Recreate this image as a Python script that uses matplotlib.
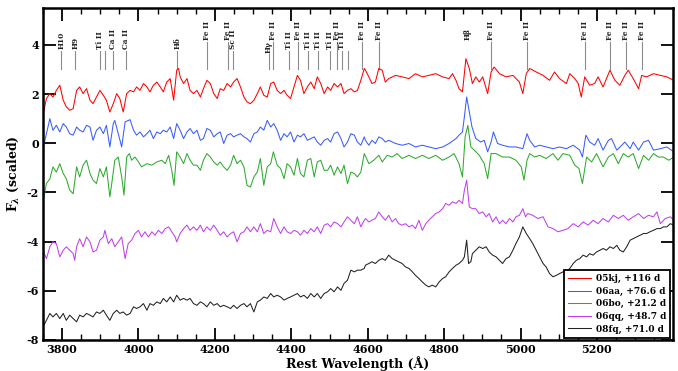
import matplotlib
matplotlib.use("Agg")
import matplotlib.pyplot as plt
import numpy as np
from matplotlib.ticker import MultipleLocator

# ---------------- data (rest wavelength [A], scaled flux) ----------------
sn05kj = np.array([
    (3750,1.14),(3759,1.82),(3768,2.02),(3776,1.88),(3785,2.15),(3794,2.36),(3803,1.75),(3811,1.48),
    (3820,1.34),(3829,1.41),(3838,2.15),(3846,2.29),(3855,2.02),(3864,2.22),(3873,1.75),(3881,1.61),
    (3890,1.88),(3899,2.15),(3908,1.95),(3916,1.75),(3925,1.27),(3934,1.61),(3943,2.02),(3951,1.82),
    (3960,1.27),(3969,2.02),(3978,2.15),(3987,2.09),(3995,2.29),(4004,2.15),(4013,2.43),(4022,2.29),
    (4030,2.09),(4039,2.36),(4048,2.49),(4057,2.29),(4065,2.09),(4074,2.49),(4083,2.63),(4092,1.75),
    (4100,2.97),(4105,3.04),(4109,2.70),(4118,2.43),(4127,2.63),(4135,2.15),(4144,2.02),(4153,2.15),
    (4162,1.88),(4170,2.22),(4179,2.56),(4188,2.43),(4197,2.02),(4206,1.82),(4214,2.22),(4223,2.15),
    (4232,2.43),(4241,2.29),(4249,2.49),(4258,2.63),(4267,2.29),(4276,1.88),(4284,1.68),(4293,1.61),
    (4302,1.75),(4311,2.02),(4319,2.29),(4328,1.95),(4337,1.88),(4346,2.43),(4354,2.49),(4363,2.15),
    (4372,2.02),(4381,2.15),(4389,1.95),(4398,1.82),(4407,2.29),(4416,2.76),(4424,2.56),(4433,2.02),
    (4442,2.29),(4451,2.49),(4460,2.22),(4468,2.70),(4477,2.43),(4486,2.02),(4495,2.29),(4503,2.15),
    (4512,2.43),(4521,2.29),(4530,2.43),(4538,2.02),(4547,2.15),(4556,2.22),(4565,2.09),(4573,2.15),
    (4582,2.56),(4591,3.04),
    (4594,2.97),(4603,2.70),(4611,2.43),(4620,2.49),(4629,3.04),(4638,2.97),(4646,2.49),(4655,2.63),
    (4673,2.76),(4690,2.70),(4708,2.63),(4725,2.83),(4743,2.70),(4760,2.76),(4778,2.83),(4796,2.70),
    (4813,2.63),(4822,2.83),(4831,2.56),(4839,2.22),(4848,2.09),(4857,3.44),(4866,3.04),(4874,2.43),
    (4883,2.70),(4892,2.49),(4901,2.70),(4914,2.02),(4923,2.90),(4931,3.10),(4945,2.83),(4962,2.70),
    (4980,2.76),(4997,2.49),(5006,2.02),(5015,2.83),(5024,3.04),(5041,2.90),(5059,2.76),(5076,2.56),
    (5089,2.90),(5102,2.63),(5120,2.43),(5129,2.83),(5142,2.63),(5151,2.43),(5159,1.88),(5168,2.70),
    (5181,2.36),(5194,2.43),(5203,2.70),(5216,2.29),(5234,2.97),(5247,2.56),(5260,2.36),(5273,2.76),
    (5282,2.97),(5295,2.63),(5309,2.22),(5317,2.76),(5330,2.70),(5348,2.83),(5366,2.76),(5383,2.70),
    (5401,2.56)])

sn06aa = np.array([
    (3750,-0.22),(3759,0.39),(3768,1.00),(3776,0.53),(3785,0.73),(3794,0.46),(3803,0.80),(3811,0.66),
    (3820,0.39),(3829,0.33),(3838,0.66),(3846,0.53),(3855,0.46),(3864,0.73),(3873,0.66),(3881,0.12),
    (3890,0.53),(3899,0.66),(3908,0.39),(3916,0.73),(3925,-0.15),(3934,0.80),(3938,0.93),(3947,0.39),
    (3956,-0.15),(3965,0.87),(3978,0.96),(3987,0.53),(3995,0.33),(4004,0.46),(4013,0.26),(4022,0.39),
    (4030,0.53),(4039,0.19),(4048,0.46),(4057,0.39),(4065,0.53),(4074,0.46),(4083,0.66),(4092,0.19),
    (4100,0.80),(4109,0.53),(4118,0.19),(4127,0.46),(4135,0.60),(4144,0.39),(4153,0.53),(4162,0.12),
    (4170,0.19),(4179,0.60),(4188,0.53),(4197,0.26),(4206,0.39),(4214,0.46),(4223,-0.01),(4232,0.33),
    (4241,0.39),(4249,0.26),(4258,0.33),(4267,0.39),(4276,0.26),(4284,0.19),(4293,0.05),(4302,0.39),
    (4311,0.46),(4319,0.66),(4328,0.53),(4337,0.93),(4346,0.66),(4354,0.80),(4363,0.53),(4372,0.12),
    (4381,0.39),(4389,0.26),(4398,0.46),(4407,0.05),(4416,0.33),(4424,0.26),(4433,0.39),(4442,0.12),
    (4451,0.19),(4460,0.26),(4468,0.05),(4477,-0.08),(4486,0.12),(4495,0.19),(4503,0.05),(4512,0.39),
    (4521,0.46),(4530,0.19),(4538,-0.15),(4547,0.05),(4556,0.39),(4565,0.33),(4573,0.05),(4582,-0.08),
    (4591,0.26),
    (4594,0.12),(4603,-0.08),(4611,0.12),(4620,-0.01),(4629,0.26),(4638,0.19),(4646,0.05),(4655,0.12),
    (4673,-0.01),(4690,-0.08),(4708,-0.01),(4725,-0.15),(4743,-0.08),(4760,-0.15),(4778,-0.22),(4796,-0.15),
    (4813,-0.01),(4831,0.19),(4839,0.33),(4848,0.46),(4853,1.07),(4859,1.88),(4866,1.27),(4873,0.66),
    (4883,0.19),(4896,0.05),(4905,0.12),(4914,-0.35),(4923,0.05),(4929,0.46),(4940,-0.01),(4953,-0.08),
    (4971,-0.15),(4988,-0.15),(5006,-0.22),(5017,0.39),(5024,0.12),(5037,-0.15),(5050,-0.08),(5067,-0.15),
    (5085,-0.22),(5102,-0.15),(5120,-0.22),(5138,-0.08),(5155,-0.28),(5162,-0.56),(5171,0.33),(5181,0.05),
    (5194,-0.08),(5203,0.19),(5216,-0.28),(5230,0.12),(5238,0.19),(5252,-0.28),(5265,-0.08),(5273,0.05),
    (5287,-0.22),(5295,0.05),(5309,-0.28),(5322,0.05),(5335,0.12),(5348,-0.28),(5366,-0.22),(5383,-0.15),
    (5401,-0.35)])

sn06bo = np.array([
    (3750,-2.38),(3759,-1.64),(3768,-1.44),(3776,-0.96),(3785,-1.17),(3794,-0.83),(3803,-1.23),(3811,-1.44),
    (3820,-1.91),(3829,-2.05),(3838,-0.96),(3846,-1.37),(3855,-0.89),(3864,-0.69),(3873,-1.23),(3881,-1.50),
    (3890,-1.64),(3899,-1.03),(3908,-1.37),(3916,-0.96),(3925,-2.18),(3930,-1.64),(3938,-0.69),(3947,-0.56),
    (3956,-1.37),(3962,-2.11),(3969,-0.56),(3976,-0.42),(3982,-0.69),(3991,-0.56),(4000,-0.76),(4008,-0.96),
    (4022,-0.83),(4035,-0.89),(4048,-0.76),(4061,-0.69),(4070,-0.83),(4079,-0.49),(4087,-1.10),(4093,-1.71),
    (4100,-0.35),(4109,-0.56),(4118,-0.83),(4127,-0.42),(4135,-0.69),(4144,-0.89),(4153,-0.89),(4162,-1.10),
    (4170,-0.69),(4179,-0.42),(4188,-0.56),(4197,-0.76),(4206,-0.89),(4214,-0.76),(4223,-0.96),(4232,-1.10),
    (4241,-0.89),(4249,-0.49),(4258,-0.83),(4267,-0.69),(4276,-0.96),(4284,-1.71),(4293,-1.78),(4302,-1.37),
    (4311,-1.17),(4319,-0.62),(4328,-1.71),(4337,-0.96),(4346,-0.83),(4353,-0.35),(4363,-0.89),(4372,-1.03),
    (4381,-1.44),(4389,-0.83),(4398,-0.96),(4407,-1.30),(4416,-0.62),(4424,-1.23),(4433,-1.37),(4442,-0.69),
    (4451,-0.62),(4460,-1.37),(4468,-0.76),(4477,-0.69),(4486,-1.10),(4495,-1.10),(4503,-0.89),(4512,-1.30),
    (4521,-0.96),(4530,-1.23),(4538,-0.89),(4547,-1.64),(4556,-1.17),(4565,-1.23),(4573,-1.37),(4582,-1.17),
    (4591,-0.42),
    (4603,-0.83),(4616,-0.69),(4629,-0.49),(4638,-0.76),(4651,-0.49),(4664,-0.56),(4677,-0.42),(4690,-0.62),
    (4708,-0.49),(4725,-0.62),(4743,-0.49),(4760,-0.62),(4778,-0.49),(4796,-0.69),(4813,-0.56),(4826,-0.42),
    (4839,-0.83),(4848,-1.37),(4855,0.26),(4862,0.73),(4870,-0.15),(4879,-0.28),(4892,-0.49),(4905,-0.83),
    (4914,-1.44),(4923,-0.42),(4936,-0.42),(4953,-0.56),(4971,-0.56),(4988,-0.69),(5002,-0.96),(5009,-1.50),
    (5017,-0.69),(5024,-0.42),(5037,-0.56),(5050,-0.49),(5067,-0.62),(5085,-0.42),(5098,-0.69),(5111,-0.42),
    (5129,-0.49),(5142,-0.89),(5153,-1.03),(5162,-1.64),(5173,-0.56),(5186,-0.76),(5199,-0.42),(5216,-0.96),
    (5230,-0.56),(5243,-0.42),(5256,-0.83),(5269,-0.42),(5282,-0.56),(5295,-0.42),(5309,-1.03),(5322,-0.49),
    (5335,-0.69),(5348,-0.42),(5361,-0.56),(5374,-0.56),(5388,-0.69),(5401,-0.56)])

sn06qq = np.array([
    (3750,-4.35),(3759,-4.69),(3768,-4.21),(3776,-4.01),(3785,-4.08),(3794,-4.62),(3803,-4.35),(3811,-4.21),
    (3820,-4.35),(3829,-4.49),(3833,-4.76),(3838,-4.21),(3846,-3.88),(3855,-4.21),(3864,-3.81),(3873,-4.01),
    (3881,-4.42),(3890,-4.35),(3899,-3.94),(3908,-3.81),(3912,-3.54),(3921,-4.08),(3930,-3.88),(3938,-4.21),
    (3947,-4.01),(3956,-3.81),(3965,-4.69),(3973,-4.08),(3982,-3.94),(3991,-3.67),(4000,-3.54),(4008,-3.81),
    (4017,-3.60),(4026,-3.81),(4035,-3.60),(4043,-3.74),(4052,-3.54),(4061,-3.67),(4070,-3.47),(4079,-3.40),
    (4087,-3.60),(4096,-3.81),(4100,-4.01),(4109,-3.67),(4118,-3.47),(4127,-3.33),(4135,-3.54),(4144,-3.40),
    (4153,-3.54),(4162,-3.33),(4170,-3.60),(4179,-3.40),(4188,-3.54),(4197,-3.33),(4206,-3.54),(4214,-3.74),
    (4223,-3.60),(4232,-3.81),(4241,-3.67),(4249,-3.60),(4258,-4.01),(4267,-3.67),(4276,-3.60),(4284,-3.40),
    (4293,-3.60),(4302,-3.40),(4311,-3.60),(4319,-3.27),(4328,-3.67),(4337,-3.54),(4346,-3.60),(4354,-3.06),
    (4363,-3.40),(4372,-3.67),(4381,-3.40),(4389,-3.60),(4398,-3.67),(4407,-3.54),(4416,-3.60),(4424,-3.74),
    (4433,-3.54),(4442,-3.67),(4451,-3.47),(4460,-3.60),(4468,-3.40),(4477,-3.67),(4486,-3.33),(4495,-3.27),
    (4503,-3.40),(4512,-3.20),(4521,-3.27),(4530,-3.40),(4538,-3.20),(4547,-2.99),(4556,-3.13),(4565,-3.27),
    (4573,-2.99),(4582,-3.40),(4591,-3.13),
    (4594,-3.06),(4603,-3.20),(4611,-3.13),(4620,-3.06),(4629,-2.79),(4638,-2.99),(4646,-3.13),(4655,-2.93),
    (4664,-3.20),(4673,-3.06),(4681,-3.27),(4690,-3.33),(4699,-3.27),(4708,-3.40),(4717,-3.33),(4725,-3.47),
    (4734,-3.13),(4743,-3.54),(4752,-3.27),(4760,-3.13),(4769,-2.99),(4778,-2.86),(4787,-2.79),(4796,-2.66),
    (4804,-2.45),(4813,-2.52),(4822,-2.38),(4831,-2.45),(4839,-2.32),(4848,-2.45),(4853,-1.91),(4859,-1.50),
    (4866,-2.59),(4874,-2.66),(4883,-2.66),(4892,-2.86),(4901,-2.79),(4910,-2.99),(4918,-2.86),(4927,-3.20),
    (4936,-2.99),(4945,-3.27),(4953,-3.13),(4962,-3.27),(4971,-3.06),(4980,-3.20),(4988,-2.99),(4997,-2.93),
    (5006,-2.66),(5013,-2.99),(5019,-2.86),(5032,-2.93),(5045,-3.06),(5059,-2.99),(5072,-3.40),(5085,-3.47),
    (5098,-3.60),(5111,-3.54),(5124,-3.47),(5138,-3.27),(5151,-3.40),(5164,-3.20),(5177,-3.33),(5190,-3.13),
    (5203,-3.27),(5216,-3.06),(5230,-3.20),(5243,-2.93),(5256,-3.06),(5269,-2.93),(5282,-3.13),(5295,-2.99),
    (5309,-2.86),(5322,-3.06),(5335,-2.93),(5348,-2.99),(5357,-2.79),(5366,-3.27),(5379,-3.06),(5392,-2.99),
    (5401,-3.13)])

sn08fq = np.array([
    (3750,-7.47),(3759,-7.20),(3768,-6.92),(3776,-7.06),(3785,-6.92),(3794,-7.13),(3803,-6.92),(3811,-7.20),
    (3820,-6.99),(3829,-7.13),(3838,-7.26),(3846,-6.99),(3855,-7.06),(3864,-6.92),(3873,-6.99),(3881,-7.06),
    (3890,-6.86),(3899,-6.92),(3908,-6.79),(3916,-6.99),(3925,-7.20),(3934,-6.92),(3943,-6.79),(3951,-6.92),
    (3960,-6.86),(3969,-6.99),(3978,-6.92),(3987,-6.65),(3995,-6.72),(4004,-6.65),(4013,-6.52),(4022,-6.79),
    (4030,-6.52),(4039,-6.59),(4048,-6.45),(4057,-6.52),(4065,-6.31),(4074,-6.45),(4083,-6.25),(4092,-6.45),
    (4100,-6.18),(4109,-6.38),(4118,-6.31),(4127,-6.38),(4135,-6.31),(4144,-6.52),(4153,-6.59),(4162,-6.45),
    (4170,-6.52),(4179,-6.65),(4188,-6.45),(4197,-6.59),(4206,-6.52),(4214,-6.65),(4223,-6.59),(4232,-6.65),
    (4241,-6.72),(4249,-6.59),(4258,-6.72),(4267,-6.59),(4276,-6.52),(4284,-6.65),(4293,-6.52),(4302,-6.86),
    (4311,-6.45),(4319,-6.38),(4328,-6.25),(4337,-6.31),(4346,-6.11),(4354,-6.25),(4363,-6.18),(4372,-6.25),
    (4381,-6.38),(4389,-6.31),(4398,-6.25),(4407,-6.18),(4416,-6.11),(4424,-6.25),(4433,-6.18),(4442,-6.31),
    (4451,-6.11),(4460,-6.25),(4468,-6.11),(4477,-6.31),(4486,-6.11),(4495,-6.04),(4503,-5.91),(4512,-6.04),
    (4521,-5.84),(4530,-5.98),(4538,-5.70),(4547,-5.57),(4556,-5.16),(4565,-5.23),(4573,-5.16),(4582,-5.16),
    (4591,-5.09),
    (4594,-4.96),(4603,-4.89),(4611,-4.82),(4620,-4.89),(4629,-4.76),(4638,-4.69),(4646,-4.76),(4655,-4.55),
    (4664,-4.69),(4673,-4.76),(4681,-4.82),(4690,-4.89),(4699,-5.03),(4708,-5.09),(4717,-5.23),(4725,-5.37),
    (4734,-5.50),(4743,-5.64),(4752,-5.77),(4760,-5.84),(4769,-5.77),(4778,-5.84),(4787,-5.64),(4796,-5.50),
    (4804,-5.43),(4813,-5.23),(4822,-5.09),(4831,-4.96),(4839,-4.89),(4848,-4.76),(4853,-4.62),(4859,-3.94),
    (4864,-4.89),(4870,-4.82),(4874,-4.49),(4883,-4.35),(4892,-4.21),(4901,-4.28),(4910,-4.21),(4918,-4.42),
    (4927,-4.55),(4936,-4.62),(4945,-4.76),(4953,-4.89),(4962,-4.69),(4971,-4.62),(4980,-4.35),(4988,-4.08),
    (4997,-3.81),(5006,-3.40),(5015,-3.67),(5024,-3.88),(5032,-4.08),(5041,-4.35),(5050,-4.62),(5059,-4.89),
    (5067,-5.03),(5076,-5.30),(5085,-5.43),(5094,-5.37),(5102,-5.30),(5111,-5.23),(5120,-5.23),(5129,-5.09),
    (5138,-4.89),(5146,-4.76),(5155,-4.69),(5164,-4.55),(5173,-4.62),(5181,-4.49),(5190,-4.55),(5199,-4.42),
    (5208,-4.35),(5216,-4.28),(5225,-4.35),(5234,-4.21),(5243,-4.28),(5252,-4.15),(5260,-4.35),(5269,-4.42),
    (5278,-4.21),(5287,-3.94),(5295,-3.88),(5304,-3.81),(5313,-3.74),(5322,-3.67),(5330,-3.67),(5339,-3.60),
    (5348,-3.54),(5357,-3.47),(5366,-3.47),(5374,-3.40),(5383,-3.40),(5392,-3.27),(5401,-3.33)])

series_labels = ["05kj, +116 d", "06aa, +76.6 d", "06bo, +21.2 d", "06qq, +48.7 d", "08fq, +71.0 d"]
series_colors = ["#ff0000", "#3a5cff", "#2eaa2e", "#c040f0", "#222222"]

# line identifications
line_waves = [3798, 3835, 3900, 3913, 3934, 3968, 4102, 4179, 4233, 4247, 4341, 4352, 4395, 4418,
              4444, 4469, 4501, 4520, 4534, 4549, 4584, 4629, 4861, 4924, 5018, 5169, 5235, 5276, 5317]
line_names = ["H10", "H9", "Ti II", "", "Ca II", "Ca II", "H\u03b4", "Fe II", "Fe II", "Sc II", "H\u03b3",
              "Fe II", "Ti II", "Fe II", "Ti II", "Ti II", "Ti II", "Fe II", "Ti II", "", "Fe II", "Fe II",
              "H\u03b2", "Fe II", "Fe II", "Fe II", "Fe II", "Fe II", "Fe II"]

# ---------------- figure ----------------
plt.rcParams["font.family"] = ["DejaVu Serif"]
plt.rcParams["font.weight"] = "bold"
plt.rcParams["axes.unicode_minus"] = False
plt.rcParams["mathtext.fontset"] = "dejavuserif"

fig = plt.figure(figsize=(6.78, 3.71), dpi=100)
ax = fig.add_axes([0.0634, 0.0836, 0.9286, 0.8948])

for arr, lab, col in zip([sn05kj, sn06aa, sn06bo, sn06qq, sn08fq], series_labels, series_colors):
    ax.plot(arr[:, 0], arr[:, 1], color=col, lw=0.75, label=lab)

for w, name in zip(line_waves, line_names):
    high = name == "Fe II"
    if high:
        top, ty = 4.12, 4.2
    elif name == "H\u03b3":
        top, ty = 3.62, 3.68
    elif name == "H\u03b2":
        top, ty = None, 4.2
    else:
        top, ty = 3.76, 3.83
    if top is not None:
        ax.plot([w, w], [3.0, top], color="#8c8c8c", lw=0.8, zorder=1)
    if name:
        ax.text(w, ty, name, rotation=90, ha="center", va="bottom", fontsize=5.3,
                fontweight="bold", color="#222222")

ax.set_xlim(3750, 5398)
ax.set_ylim(-8, 5.5)
ax.xaxis.set_major_locator(MultipleLocator(200))
ax.xaxis.set_minor_locator(MultipleLocator(50))
ax.yaxis.set_major_locator(MultipleLocator(2))
ax.tick_params(which="both", direction="in", top=True, right=True, labelsize=8)
ax.tick_params(which="major", length=9, width=1.3, pad=3)
ax.tick_params(which="minor", length=4.5, width=1.0)
for s in ax.spines.values():
    s.set_linewidth(1.8)
for t in ax.get_xticklabels() + ax.get_yticklabels():
    t.set_fontweight("bold")

ax.set_xlabel("Rest Wavelength (\u00c5)", fontsize=9, fontweight="bold", labelpad=1)
ax.set_ylabel(r"F$_\lambda$ (scaled)", fontsize=9, fontweight="bold", labelpad=4)

leg = ax.legend(loc="lower right", fontsize=6.5, handlelength=2.6, labelspacing=0.4,
                borderaxespad=0.25, fancybox=False, framealpha=1, borderpad=0.45, handletextpad=0.5)
leg.get_frame().set_edgecolor("black")
leg.get_frame().set_linewidth(1.3)
for t in leg.get_texts():
    t.set_fontweight("bold")

fig.savefig("out.png", dpi=100)
